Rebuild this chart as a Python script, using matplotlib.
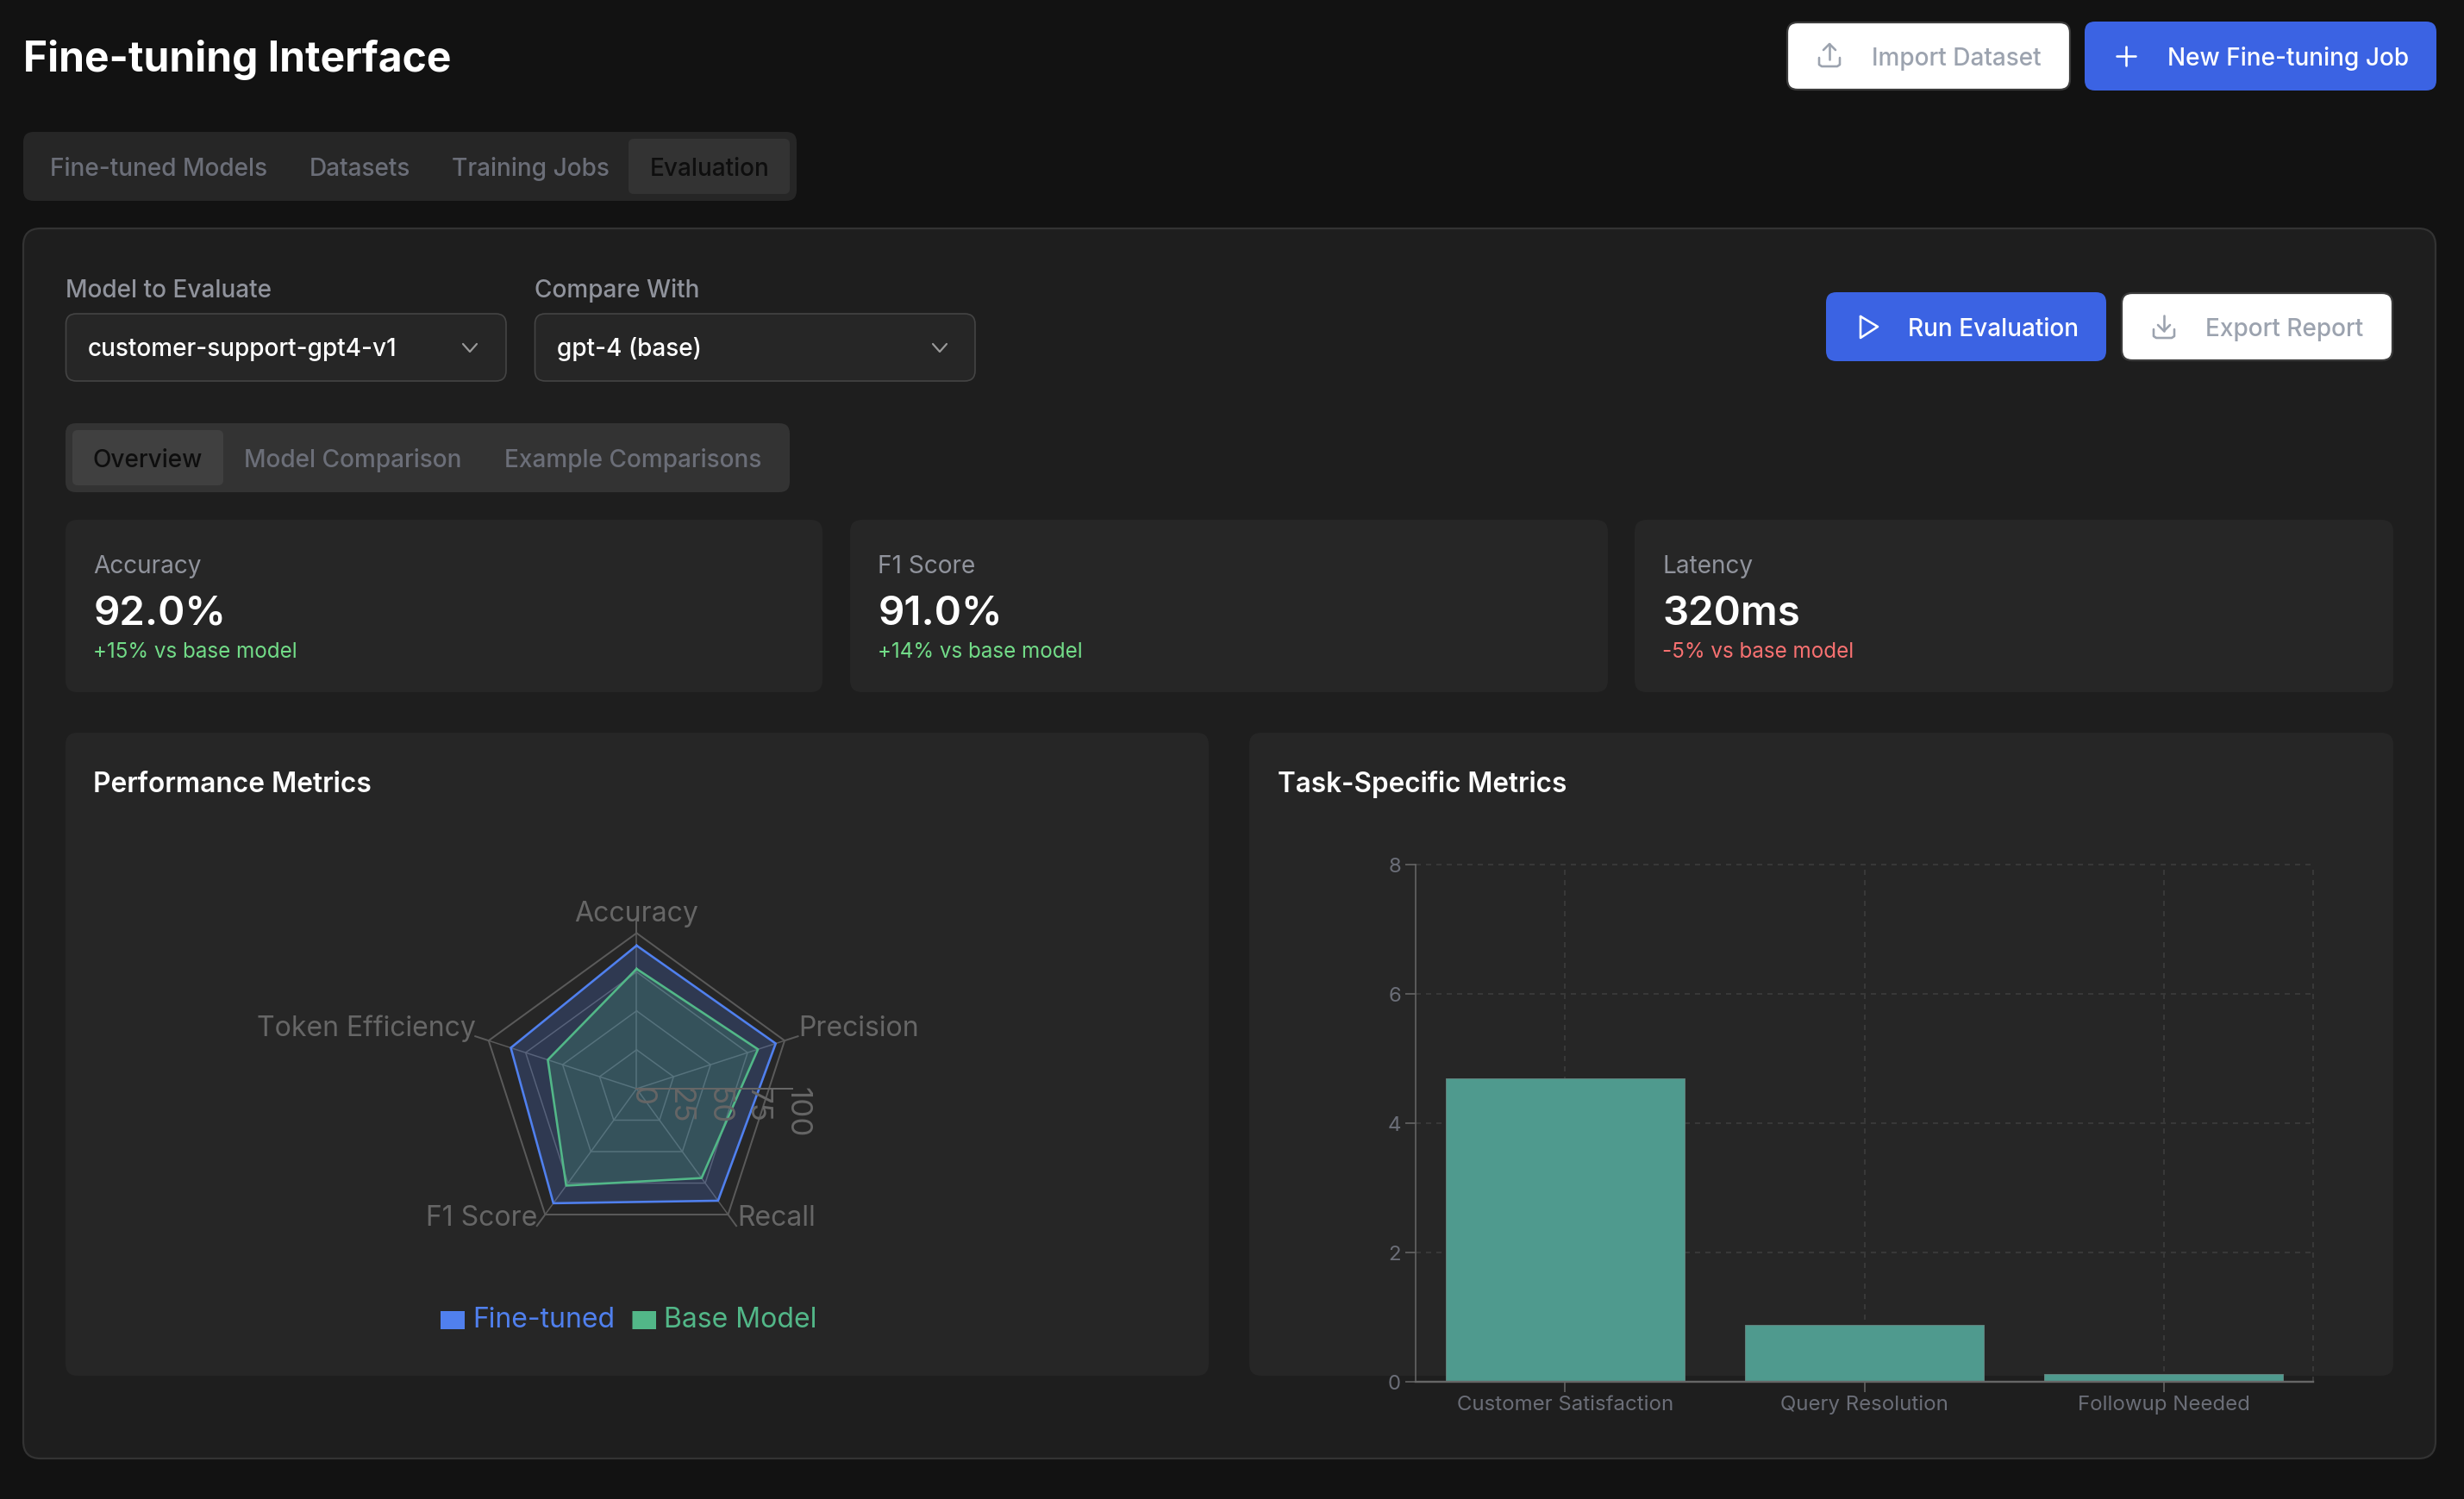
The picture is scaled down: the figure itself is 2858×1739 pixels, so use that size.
"""Fine-tuning evaluation dashboard, redrawn on a pixel-sized figure."""

import matplotlib

matplotlib.use("Agg")

import matplotlib.pyplot as plt
import numpy as np
from matplotlib.patches import FancyBboxPatch

WIDTH = 2858
HEIGHT = 1740

PAGE = "#121212"
PANEL = "#1e1e1e"
CARD = "#262626"
BLUE_BTN = "#3b63e3"
MUTED = "#6b6e78"
LABEL = "#90939c"
WHITE = "#ffffff"
AXIS = "#666666"
RING = "#5a5a5a"
BLUE = "#5080ee"
GREEN = "#52b788"
TEAL = "#4f9a8e"

radar_metrics = ["Accuracy", "Precision", "Recall", "F1 Score", "Token Efficiency"]
fine_tuned = [92, 94, 89, 91, 85]
base_model = [77, 82, 71, 77, 60]
radar_ticks = [0, 25, 50, 75, 100]

task_metrics = ["Customer Satisfaction", "Query Resolution", "Followup Needed"]
task_values = [4.7, 0.88, 0.12]
task_ticks = [0, 2, 4, 6, 8]

main_tabs = ["Fine-tuned Models", "Datasets", "Training Jobs", "Evaluation"]
sub_tabs = ["Overview", "Model Comparison", "Example Comparisons"]
stat_names = ["Accuracy", "F1 Score", "Latency"]
stat_values = ["92.0%", "91.0%", "320ms"]
stat_deltas = ["+15% vs base model", "+14% vs base model", "-5% vs base model"]
stat_colors = ["#72dc88", "#72dc88", "#f87171"]

plt.rcParams["font.family"] = ["Inter", "DejaVu Sans"]


def pt(px):
    return px * 0.72


def box(ax, x0, y0, x1, y1, color, radius=12, edge="none", lw=0.0):
    ax.add_patch(
        FancyBboxPatch(
            (x0, y0),
            x1 - x0,
            y1 - y0,
            boxstyle=f"round,pad=0,rounding_size={radius}",
            facecolor=color,
            edgecolor=edge,
            linewidth=lw,
        )
    )


def label(ax, x, y, text, size, color, weight="normal", ha="left"):
    ax.text(x, y, text, fontsize=pt(size), color=color, weight=weight, ha=ha, va="baseline")


def stroke(ax, xs, ys, color, lw=2.6):
    ax.plot(xs, ys, color=color, lw=pt(lw), solid_capstyle="round", solid_joinstyle="round")


def tray_icon(ax, cx, cy, color, up=True):
    stroke(ax, [cx - 12, cx - 12, cx - 9, cx + 9, cx + 12, cx + 12],
           [cy + 3, cy + 11, cy + 13, cy + 13, cy + 11, cy + 3], color)
    if up:
        stroke(ax, [cx, cx], [cy - 13, cy + 5], color)
        stroke(ax, [cx - 7, cx, cx + 7], [cy - 6, cy - 13, cy - 6], color)
    else:
        stroke(ax, [cx, cx], [cy - 13, cy + 5], color)
        stroke(ax, [cx - 7, cx, cx + 7], [cy - 2, cy + 5, cy - 2], color)


def chevron(ax, cx, cy):
    stroke(ax, [cx - 8, cx, cx + 8], [cy - 4, cy + 5, cy - 4], "#9a9a9a", 2.2)


def draw_page(ax):
    label(ax, 27, 83, "Fine-tuning Interface", 48, WHITE, "bold")

    box(ax, 2073, 27, 2401, 105, WHITE, 12, "#3a3a3a", 1.6)
    tray_icon(ax, 2122, 65, "#9ca3af")
    label(ax, 2171, 76, "Import Dataset", 28, "#9ca3af", "medium")
    box(ax, 2418, 26, 2826, 106, BLUE_BTN, 12)
    stroke(ax, [2455, 2477], [66, 66], WHITE)
    stroke(ax, [2466, 2466], [55, 77], WHITE)
    label(ax, 2514, 76, "New Fine-tuning Job", 28, WHITE, "medium")

    box(ax, 27, 154, 924, 234, CARD, 12)
    box(ax, 729, 162, 916, 226, "#333333", 6)
    for x, tab, color in zip([58, 359, 524, 754], main_tabs, [MUTED, MUTED, MUTED, "#0e0e0e"]):
        label(ax, x, 204, tab, 28, color, "medium")

    box(ax, 27, 266, 2825, 1693, PANEL, 20, "#333333", 1.6)

    label(ax, 76.5, 345, "Model to Evaluate", 28, LABEL, "medium")
    label(ax, 620.5, 345, "Compare With", 28, LABEL, "medium")
    box(ax, 76.5, 365, 587, 443, CARD, 12, "#444444", 1.2)
    box(ax, 620.5, 365, 1131, 443, CARD, 12, "#444444", 1.2)
    label(ax, 102, 413, "customer-support-gpt4-v1", 28, WHITE, "medium")
    label(ax, 646, 413, "gpt-4 (base)", 28, WHITE, "medium")
    chevron(ax, 545, 404)
    chevron(ax, 1090, 404)

    box(ax, 2118, 340, 2443, 420, BLUE_BTN, 12)
    stroke(ax, [2158, 2178, 2158, 2158], [368, 380, 393, 368], WHITE)
    label(ax, 2213, 390, "Run Evaluation", 28, WHITE, "medium")
    box(ax, 2461, 341, 2775, 419, WHITE, 12, "#3a3a3a", 1.6)
    tray_icon(ax, 2510, 380, "#9ca3af", up=False)
    label(ax, 2558, 390, "Export Report", 28, "#9ca3af", "medium")

    box(ax, 76, 492, 916, 572, "#333333", 12)
    box(ax, 84, 500, 259, 564, "#404040", 6)
    for x, tab, color in zip([108, 283, 585], sub_tabs, ["#0e0e0e", MUTED, MUTED]):
        label(ax, x, 542, tab, 28, color, "medium")

    card_edges = [(76, 954), (986, 1865), (1896, 2776)]
    for (x0, x1), name, value, delta, color in zip(
        card_edges, stat_names, stat_values, stat_deltas, stat_colors
    ):
        box(ax, x0, 604, x1, 804, CARD, 14)
        label(ax, x0 + 32.5, 665, name, 28, LABEL)
        label(ax, x0 + 32.5, 725, value, 47.5, WHITE, "semibold")
        label(ax, x0 + 32.5, 763, delta, 24.2, color)

    box(ax, 76, 851, 1402, 1597, CARD, 14)
    box(ax, 1449, 851, 2776, 1597, CARD, 14)
    label(ax, 108, 919, "Performance Metrics", 31.7, WHITE, "semibold")
    label(ax, 1482, 919, "Task-Specific Metrics", 31.5, WHITE, "semibold")


def draw_radar(fig):
    # centre (738.4, 1264), outer ring radius 180.5 px
    size = 361
    ax = fig.add_axes(
        [(738.4 - size / 2) / WIDTH, 1 - (1264 + size / 2) / HEIGHT, size / WIDTH, size / HEIGHT],
        polar=True,
    )
    ax.set_theta_zero_location("N")
    ax.set_theta_direction(-1)
    ax.set_ylim(0, 100)
    ax.axis("off")

    theta = np.linspace(0, 2 * np.pi, len(radar_metrics), endpoint=False)
    closed = np.append(theta, theta[0])

    for tick in radar_ticks[1:]:
        # inner rings sit under the fills and read fainter than the outer one
        width = 2 if tick == radar_ticks[-1] else 1.5
        ax.plot(closed, [tick] * len(closed), color=RING, lw=pt(width), clip_on=False, zorder=1)
    for angle in theta:
        ax.plot([angle, angle], [0, 100], color=RING, lw=pt(1.5), clip_on=False, zorder=1)
        ax.plot([angle, angle], [100, 109], color=RING, lw=pt(2), clip_on=False, zorder=1)

    for values, color, alpha in [(fine_tuned, BLUE, 0.22), (base_model, GREEN, 0.2)]:
        loop = values + values[:1]
        ax.fill(closed, loop, color=color, alpha=alpha, lw=0, zorder=2, clip_on=False)
        ax.plot(closed, loop, color=color, lw=pt(2.6), zorder=3, clip_on=False)

    ax.plot([np.pi / 2, np.pi / 2], [0, 100], color=AXIS, lw=pt(2), zorder=4, clip_on=False)
    for tick in radar_ticks:
        ax.annotate(
            str(tick),
            (np.pi / 2, tick),
            xytext=(5, 3),
            textcoords="offset pixels",
            rotation=-90,
            ha="center",
            va="top",
            fontsize=pt(35),
            color=AXIS,
        )

    offsets = [(0, 15, "center"), (16, 6, "left"), (11, -12, "left"), (-9, -12, "right"), (-15, 6, "right")]
    for angle, name, (dx, dy, ha) in zip(theta, radar_metrics, offsets):
        ax.annotate(
            name,
            (angle, 100),
            xytext=(dx, dy),
            textcoords="offset pixels",
            ha=ha,
            va="baseline",
            fontsize=pt(32),
            color=AXIS,
        )


def draw_legend(ax):
    box(ax, 511, 1522, 539, 1543, BLUE, 0)
    label(ax, 548, 1540, "Fine-tuned", 32, BLUE)
    box(ax, 733.5, 1522, 761, 1543, GREEN, 0)
    label(ax, 770, 1540, "Base Model", 32, GREEN)


def draw_bars(fig):
    left, right, top, bottom = 1642, 2683, 1004, 1604
    ax = fig.add_axes(
        [left / WIDTH, 1 - bottom / HEIGHT, (right - left) / WIDTH, (bottom - top) / HEIGHT]
    )
    ax.patch.set_alpha(0)
    x = np.arange(len(task_metrics))
    ax.bar(x, task_values, width=0.797, color=TEAL, edgecolor="#5f7f7a", linewidth=pt(1), zorder=3)
    ax.set_xlim(-0.5, 2.5)
    ax.set_ylim(task_ticks[0], task_ticks[-1])
    ax.set_xticks(x)
    ax.set_xticklabels(task_metrics)
    ax.set_yticks(task_ticks)

    grid = dict(color="#383838", lw=pt(2), dashes=(3, 3), zorder=1, clip_on=False)
    for value in task_ticks[1:]:
        ax.axhline(value, **grid)
    for value in list(x) + [2.5]:
        ax.axvline(value, **grid)

    for side in ["top", "right"]:
        ax.spines[side].set_visible(False)
    ax.spines["left"].set_color(AXIS)
    ax.spines["left"].set_linewidth(pt(1.6))
    ax.spines["bottom"].set_color(AXIS)
    ax.spines["bottom"].set_linewidth(pt(2.4))
    ax.spines["bottom"].set_zorder(4)
    ax.tick_params(axis="both", length=pt(12), width=pt(1.6), color=AXIS, labelcolor=MUTED,
                   labelsize=pt(24), pad=pt(5))
    ax.tick_params(axis="x", pad=pt(3))


def main():
    fig = plt.figure(figsize=(WIDTH / 100, HEIGHT / 100), dpi=100, facecolor=PAGE)
    page = fig.add_axes([0, 0, 1, 1])
    page.set_xlim(0, WIDTH)
    page.set_ylim(HEIGHT, 0)
    page.axis("off")
    draw_page(page)
    draw_legend(page)
    draw_radar(fig)
    draw_bars(fig)
    fig.savefig("out.png", dpi=100, facecolor=PAGE)
    plt.close(fig)


if __name__ == "__main__":
    main()
